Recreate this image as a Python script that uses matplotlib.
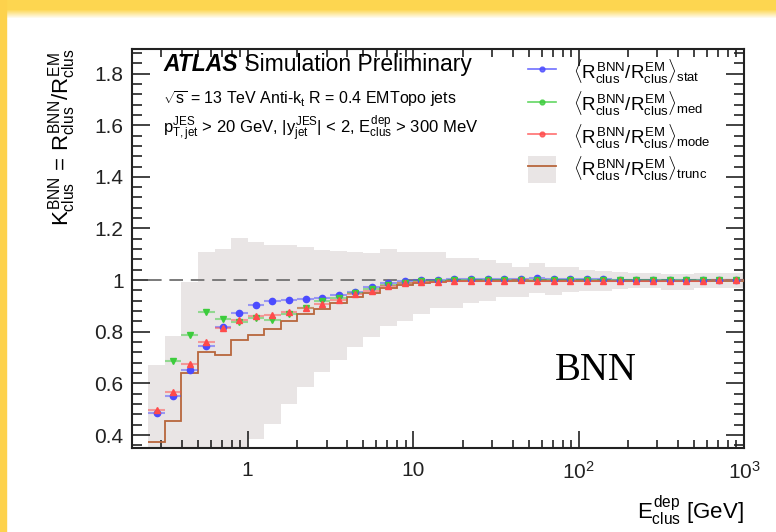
import numpy as np
import matplotlib
matplotlib.use('Agg')
import matplotlib.pyplot as plt
from matplotlib.lines import Line2D
from matplotlib.patches import Patch, Rectangle
from matplotlib.ticker import MultipleLocator, LogLocator, NullFormatter, FixedLocator, FixedFormatter

plt.rcParams['font.family'] = ['Liberation Sans', 'DejaVu Sans']
plt.rcParams['mathtext.fontset'] = 'custom'
plt.rcParams['mathtext.rm'] = 'Liberation Sans'
plt.rcParams['mathtext.it'] = 'Liberation Sans'
plt.rcParams['mathtext.bf'] = 'Liberation Sans:bold'

# binning: 10 log bins per decade, 0.25 GeV .. 1 TeV
bin_edges = 10 ** (np.arange(-6, 31) / 10)

r_stat = [0.486, 0.550, 0.651, 0.745, 0.819, 0.871, 0.902, 0.920, 0.924, 0.926,
          0.930, 0.941, 0.955, 0.972, 0.987, 0.996, 1.000, 1.002, 1.005, 1.006,
          1.006, 1.006, 1.006, 1.007, 1.006, 1.005, 1.004, 1.003, 1.002, 1.002,
          1.001, 1.001, 1.000, 1.001, 1.000, 1.001]
r_med = [np.nan, 0.687, 0.787, 0.876, 0.851, 0.838, 0.855, 0.845, 0.867, 0.894,
         0.918, 0.931, 0.951, 0.964, 0.981, 0.990, 0.996, 0.998, 1.000, 1.001,
         1.001, 1.001, 1.002, 1.002, 1.001, 1.001, 1.000, 1.000, 1.000, 1.000,
         1.000, 1.000, 1.000, 1.000, 1.000, 1.001]
r_mode = [0.499, 0.565, 0.677, 0.761, 0.814, 0.844, 0.860, 0.866, 0.875, 0.894,
          0.907, 0.925, 0.946, 0.957, 0.977, 0.987, 0.994, 0.994, 0.996, 0.998,
          0.998, 0.998, 0.999, 0.998, 0.997, 0.996, 0.997, 0.997, 0.997, 0.998,
          0.997, 0.997, 0.998, 0.998, 0.999, 0.999]
r_trunc = [0.372, 0.455, 0.641, 0.722, 0.709, 0.767, 0.789, 0.810, 0.842, 0.868,
           0.890, 0.912, 0.935, 0.951, 0.970, 0.981, 0.990, 0.994, 0.995, 0.995,
           0.996, 0.996, 0.996, 0.996, 0.996, 0.996, 0.996, 0.996, 0.996, 0.996,
           0.996, 0.996, 0.996, 0.996, 0.996, 0.996]
band_hi = [0.673, 0.783, 0.994, 1.110, 1.120, 1.165, 1.149, 1.136, 1.136, 1.127,
           1.116, 1.114, 1.110, 1.106, 1.120, 1.110, 1.110, 1.110, 1.084, 1.084,
           1.078, 1.065, 1.052, 1.065, 1.049, 1.049, 1.041, 1.036, 1.030, 1.027,
           1.027, 1.024, 1.024, 1.027, 1.027, 1.027]
band_lo = [0.30, 0.30, 0.30, 0.30, 0.30, 0.30, 0.384, 0.442, 0.522, 0.587,
           0.645, 0.690, 0.740, 0.778, 0.822, 0.842, 0.868, 0.894, 0.894, 0.912,
           0.920, 0.935, 0.935, 0.951, 0.942, 0.955, 0.957, 0.957, 0.965, 0.968,
           0.968, 0.962, 0.962, 0.968, 0.968, 0.968]

centers = np.sqrt(bin_edges[:-1] * bin_edges[1:])
xerr = [centers - bin_edges[:-1], bin_edges[1:] - centers]

fig = plt.figure(figsize=(7.76, 5.32), dpi=100)

# yellow slide frame (top and left)
fig.patches.append(Rectangle((0, 0), 6 / 776, 1, transform=fig.transFigure,
                             color='#fdd24c', zorder=0))
top = fig.add_axes([0, 1 - 18 / 532, 1, 18 / 532])
grad = np.ones((18, 2, 3))
yel = np.array([253, 214, 80]) / 255
for i in range(18):
    t = 0 if i < 9 else (i - 9) / 9
    grad[i, :, :] = yel * (1 - t) + np.array([1, 1, 1]) * t
top.imshow(grad, aspect='auto', extent=[0, 1, 0, 1])
top.axis('off')

ax = fig.add_axes([132 / 776, 84 / 532, 612 / 776, 399 / 532])

band_col = '#e9e5e5'
trunc_col = '#b8663c'
ax.stairs(band_hi, bin_edges, baseline=band_lo, fill=True, color=band_col, lw=0, zorder=1)
ax.stairs(r_trunc, bin_edges, baseline=None, color=trunc_col, lw=1.3, zorder=3)
ax.hlines(1.0, bin_edges[0], bin_edges[-1], colors='#7a7a7a', linestyles=(0, (7, 4)), lw=1.4, zorder=2)

series = [
    (r_stat, '#4b4bff', 'o', 4.5, 'stat'),
    (r_med, '#3ccc3c', 'v', 4.5, 'med'),
    (r_mode, '#ff4b4b', '^', 4.5, 'mode'),
]
handles = []
for vals, col, mk, ms, tag in series:
    ax.errorbar(centers, vals, xerr=xerr, fmt='none', ecolor=col, alpha=0.5,
                elinewidth=1.5, capsize=0, zorder=4)
    ax.plot(centers, vals, ls='none', marker=mk, ms=ms, color=col, mec=col, zorder=5)
    handles.append(Line2D([], [], color=col, alpha=0.8, lw=1.2, marker='o', ms=3.5,
                          mfc=col, mec=col))
handles.append((Patch(facecolor=band_col, edgecolor='none'),
                Line2D([], [], color=trunc_col, lw=1.3)))

lab = r'$\langle R^{BNN}_{clus}/R^{EM}_{clus}\rangle_{%s}$'
labels = [lab % 'stat', lab % 'med', lab % 'mode', lab % 'trunc']
ax.legend(handles, labels, loc='upper left', bbox_to_anchor=(0.62, 1.02),
          frameon=False, fontsize=13.5, handlelength=1.5, handleheight=1.8,
          labelspacing=0.2, handletextpad=0.9)

ax.set_xscale('log')
ax.set_xlim(0.2, 1000)
ax.set_ylim(0.35, 1.895)

ax.xaxis.set_major_locator(FixedLocator([1, 10, 100, 1000]))
ax.xaxis.set_major_formatter(FixedFormatter(['1', '10', r'$10^{2}$', r'$10^{3}$']))
ax.xaxis.set_minor_locator(LogLocator(base=10, subs=np.arange(2, 10), numticks=20))
ax.xaxis.set_minor_formatter(NullFormatter())
ax.yaxis.set_minor_locator(MultipleLocator(0.04))
ax.set_yticks([0.4, 0.6, 0.8, 1.0, 1.2, 1.4, 1.6, 1.8])
ax.set_yticklabels(['0.4', '0.6', '0.8', '1', '1.2', '1.4', '1.6', '1.8'])

ax.tick_params(which='both', direction='in', top=True, right=True, labelsize=15,
               width=1.2, colors='#222222')
ax.tick_params(axis='y', which='major', length=13, pad=6)
ax.tick_params(axis='y', which='minor', length=7)
ax.tick_params(axis='x', which='major', length=12, pad=9)
ax.tick_params(axis='x', which='minor', length=6)
for s in ax.spines.values():
    s.set_linewidth(1.5)
    s.set_color('#222222')

ax.set_ylabel(r'$K^{BNN}_{clus}$ = $R^{BNN}_{clus}/R^{EM}_{clus}$', fontsize=16,
              loc='top', labelpad=12)
ax.set_xlabel(r'$E^{dep}_{clus}$ [GeV]', fontsize=16, loc='right', labelpad=8)

t1 = ax.text(0.051, 0.945, 'ATLAS', transform=ax.transAxes, fontsize=16.5,
             fontweight='bold', fontstyle='italic')
ax.annotate(' Simulation Preliminary', xy=(1, 0), xycoords=t1, fontsize=16.5,
            va='bottom')
ax.text(0.051, 0.862, r'$\sqrt{s}$ = 13 TeV Anti-$k_{t}$ R = 0.4 EMTopo jets',
        transform=ax.transAxes, fontsize=11.5)
ax.text(0.051, 0.787,
        r'$p^{JES}_{T,jet}$ > 20 GeV, |$y^{JES}_{jet}$| < 2, $E^{dep}_{clus}$ > 300 MeV',
        transform=ax.transAxes, fontsize=12)
ax.text(0.691, 0.17, 'BNN', transform=ax.transAxes, fontsize=28,
        family='Liberation Serif')

fig.savefig('out.png', dpi=100)
